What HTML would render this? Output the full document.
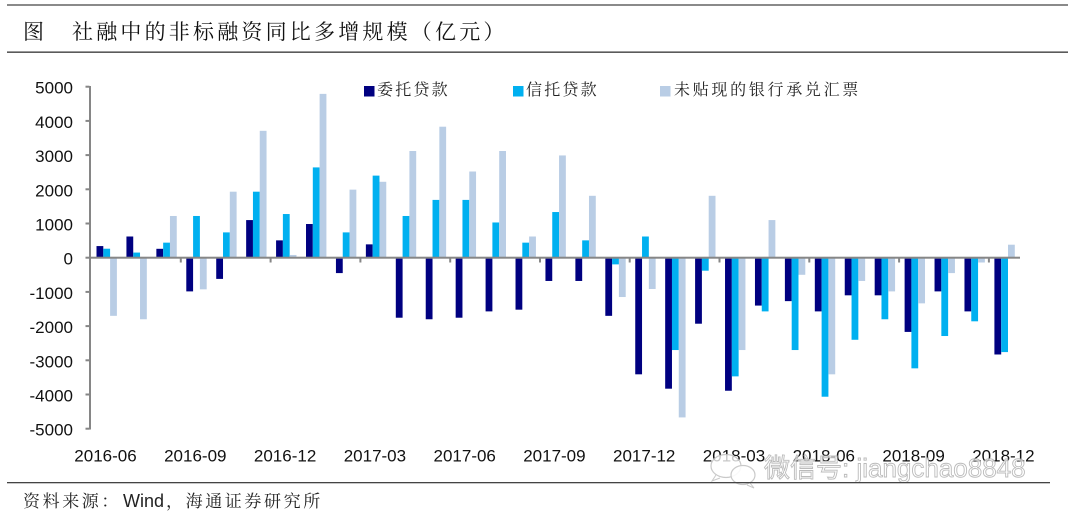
<!DOCTYPE html>
<html>
<head>
<meta charset="utf-8">
<style>
  html,body{margin:0;padding:0;background:#fff;}
  body{width:1080px;height:518px;overflow:hidden;}
  svg{display:block;}
  .cjk{font-family:"Liberation Serif","Noto Serif CJK SC","Noto Sans CJK SC",serif;}
  .num{font-family:"Liberation Sans",Arial,sans-serif;font-size:17px;fill:#111;}
</style>
</head>
<body>
<svg width="1080" height="518" viewBox="0 0 1080 518" xmlns="http://www.w3.org/2000/svg">
  <!-- header lines -->
  <rect x="7" y="4" width="1061" height="2" fill="#8a8a8a"/>
  <rect x="7" y="51.5" width="1061" height="1.3" fill="#333"/>
  <text x="23" y="39" class="cjk" font-size="21" fill="#111">图</text>
  <text x="72" y="39" class="cjk" font-size="21" letter-spacing="3.2" fill="#111">社融中的非标融资同比多增规模（亿元）</text>

  <!-- legend -->
  <rect x="364" y="86" width="10.5" height="10.5" fill="#000080"/>
  <text x="377" y="95" class="cjk" font-size="16" letter-spacing="2.2" fill="#222">委托贷款</text>
  <rect x="513" y="86" width="10.5" height="10.5" fill="#00b0f0"/>
  <text x="526" y="95" class="cjk" font-size="16" letter-spacing="2.2" fill="#222">信托贷款</text>
  <rect x="660" y="86" width="10.5" height="10.5" fill="#b9cde5"/>
  <text x="674" y="95" class="cjk" font-size="16" letter-spacing="2.7" fill="#222">未贴现的银行承兑汇票</text>

  <!-- y axis labels -->
  <g class="num" text-anchor="end">
    <text x="73" y="93.7">5000</text>
    <text x="73" y="127.9">4000</text>
    <text x="73" y="162.1">3000</text>
    <text x="73" y="196.3">2000</text>
    <text x="73" y="230.5">1000</text>
    <text x="73" y="264.7">0</text>
    <text x="73" y="298.9">-1000</text>
    <text x="73" y="333.1">-2000</text>
    <text x="73" y="367.3">-3000</text>
    <text x="73" y="401.5">-4000</text>
    <text x="73" y="435.7">-5000</text>
  </g>

  <!-- bars: dark -->
  <g fill="#000080">
    <rect x="96.5" y="246.07" width="6.8" height="11.63"/>
    <rect x="126.43" y="236.5" width="6.8" height="21.2"/>
    <rect x="156.36" y="248.81" width="6.8" height="8.89"/>
    <rect x="186.29" y="257.7" width="6.8" height="33.69"/>
    <rect x="216.22" y="257.7" width="6.8" height="21.2"/>
    <rect x="246.15" y="220.08" width="6.8" height="37.62"/>
    <rect x="276.08" y="240.36" width="6.8" height="17.34"/>
    <rect x="306.01" y="224.01" width="6.8" height="33.69"/>
    <rect x="335.94" y="257.7" width="6.8" height="15.39"/>
    <rect x="365.87" y="244.36" width="6.8" height="13.34"/>
    <rect x="395.8" y="257.7" width="6.8" height="60.02"/>
    <rect x="425.73" y="257.7" width="6.8" height="61.56"/>
    <rect x="455.66" y="257.7" width="6.8" height="60.02"/>
    <rect x="485.59" y="257.7" width="6.8" height="53.69"/>
    <rect x="515.52" y="257.7" width="6.8" height="51.98"/>
    <rect x="545.45" y="257.7" width="6.8" height="23.26"/>
    <rect x="575.38" y="257.7" width="6.8" height="23.26"/>
    <rect x="605.31" y="257.7" width="6.8" height="58.14"/>
    <rect x="635.24" y="257.7" width="6.8" height="116.62"/>
    <rect x="665.17" y="257.7" width="6.8" height="130.99"/>
    <rect x="695.1" y="257.7" width="6.8" height="66.01"/>
    <rect x="725.03" y="257.7" width="6.8" height="133.04"/>
    <rect x="754.96" y="257.7" width="6.8" height="47.88"/>
    <rect x="784.89" y="257.7" width="6.8" height="43.43"/>
    <rect x="814.82" y="257.7" width="6.8" height="53.69"/>
    <rect x="844.75" y="257.7" width="6.8" height="37.62"/>
    <rect x="874.68" y="257.7" width="6.8" height="37.62"/>
    <rect x="904.61" y="257.7" width="6.8" height="74.21"/>
    <rect x="934.54" y="257.7" width="6.8" height="33.69"/>
    <rect x="964.47" y="257.7" width="6.8" height="53.69"/>
    <rect x="994.4" y="257.7" width="6.8" height="96.79"/>
  </g>
  <!-- bars: cyan -->
  <g fill="#00b0f0">
    <rect x="103.3" y="248.71" width="6.8" height="8.99"/>
    <rect x="133.23" y="252.57" width="6.8" height="5.13"/>
    <rect x="163.16" y="242.65" width="6.8" height="15.05"/>
    <rect x="193.09" y="215.98" width="6.8" height="41.72"/>
    <rect x="223.02" y="232.39" width="6.8" height="25.31"/>
    <rect x="252.95" y="191.69" width="6.8" height="66.01"/>
    <rect x="282.88" y="214.03" width="6.8" height="43.67"/>
    <rect x="312.81" y="167.41" width="6.8" height="90.29"/>
    <rect x="342.74" y="232.39" width="6.8" height="25.31"/>
    <rect x="372.67" y="175.62" width="6.8" height="82.08"/>
    <rect x="402.6" y="215.98" width="6.8" height="41.72"/>
    <rect x="432.53" y="199.9" width="6.8" height="57.8"/>
    <rect x="462.46" y="199.9" width="6.8" height="57.8"/>
    <rect x="492.39" y="222.47" width="6.8" height="35.23"/>
    <rect x="522.32" y="242.65" width="6.8" height="15.05"/>
    <rect x="552.25" y="212.04" width="6.8" height="45.66"/>
    <rect x="582.18" y="240.36" width="6.8" height="17.34"/>
    <rect x="612.11" y="257.7" width="6.8" height="6.67"/>
    <rect x="642.04" y="236.5" width="6.8" height="21.2"/>
    <rect x="671.97" y="257.7" width="6.8" height="92.34"/>
    <rect x="701.9" y="257.7" width="6.8" height="13.0"/>
    <rect x="731.83" y="257.7" width="6.8" height="118.67"/>
    <rect x="761.76" y="257.7" width="6.8" height="53.69"/>
    <rect x="791.69" y="257.7" width="6.8" height="92.34"/>
    <rect x="821.62" y="257.7" width="6.8" height="139.02"/>
    <rect x="851.55" y="257.7" width="6.8" height="82.08"/>
    <rect x="881.48" y="257.7" width="6.8" height="61.56"/>
    <rect x="911.41" y="257.7" width="6.8" height="110.64"/>
    <rect x="941.34" y="257.7" width="6.8" height="78.32"/>
    <rect x="971.27" y="257.7" width="6.8" height="63.61"/>
    <rect x="1001.2" y="257.7" width="6.8" height="94.39"/>
  </g>
  <!-- bars: light -->
  <g fill="#b9cde5">
    <rect x="110.1" y="257.7" width="6.8" height="58.14"/>
    <rect x="140.03" y="257.7" width="6.8" height="61.56"/>
    <rect x="169.96" y="215.98" width="6.8" height="41.72"/>
    <rect x="199.89" y="257.7" width="6.8" height="31.64"/>
    <rect x="229.82" y="191.69" width="6.8" height="66.01"/>
    <rect x="259.75" y="130.82" width="6.8" height="126.88"/>
    <rect x="289.68" y="254.96" width="6.8" height="2.74"/>
    <rect x="319.61" y="93.88" width="6.8" height="163.82"/>
    <rect x="349.54" y="189.64" width="6.8" height="68.06"/>
    <rect x="379.47" y="181.78" width="6.8" height="75.92"/>
    <rect x="409.4" y="151.0" width="6.8" height="106.7"/>
    <rect x="439.33" y="126.71" width="6.8" height="130.99"/>
    <rect x="469.26" y="171.52" width="6.8" height="86.18"/>
    <rect x="499.19" y="151.0" width="6.8" height="106.7"/>
    <rect x="529.12" y="236.5" width="6.8" height="21.2"/>
    <rect x="559.05" y="155.44" width="6.8" height="102.26"/>
    <rect x="588.98" y="195.8" width="6.8" height="61.9"/>
    <rect x="618.91" y="257.7" width="6.8" height="39.33"/>
    <rect x="648.84" y="257.7" width="6.8" height="31.29"/>
    <rect x="678.77" y="257.7" width="6.8" height="159.71"/>
    <rect x="708.7" y="195.8" width="6.8" height="61.9"/>
    <rect x="738.63" y="257.7" width="6.8" height="92.34"/>
    <rect x="768.56" y="220.08" width="6.8" height="37.62"/>
    <rect x="798.49" y="257.7" width="6.8" height="17.1"/>
    <rect x="828.42" y="257.7" width="6.8" height="116.62"/>
    <rect x="858.35" y="257.7" width="6.8" height="23.26"/>
    <rect x="888.28" y="257.7" width="6.8" height="33.69"/>
    <rect x="918.21" y="257.7" width="6.8" height="45.66"/>
    <rect x="948.14" y="257.7" width="6.8" height="15.39"/>
    <rect x="978.07" y="257.7" width="6.8" height="4.79"/>
    <rect x="1008.0" y="244.7" width="6.8" height="13.0"/>
  </g>

  <!-- axes -->
  <g fill="#868686">
    <rect x="89" y="86" width="2" height="343.5"/>
    <rect x="85.5" y="85.7" width="4" height="2"/>
    <rect x="85.5" y="119.9" width="4" height="2"/>
    <rect x="85.5" y="154.1" width="4" height="2"/>
    <rect x="85.5" y="188.3" width="4" height="2"/>
    <rect x="85.5" y="222.5" width="4" height="2"/>
    <rect x="85.5" y="256.7" width="4" height="2"/>
    <rect x="85.5" y="290.9" width="4" height="2"/>
    <rect x="85.5" y="325.1" width="4" height="2"/>
    <rect x="85.5" y="359.3" width="4" height="2"/>
    <rect x="85.5" y="393.5" width="4" height="2"/>
    <rect x="85.5" y="427.7" width="4" height="2"/>
    <rect x="89" y="256.7" width="931" height="2"/>
    <rect x="179.8" y="257" width="2" height="5.5"/>
    <rect x="269.6" y="257" width="2" height="5.5"/>
    <rect x="359.4" y="257" width="2" height="5.5"/>
    <rect x="449.2" y="257" width="2" height="5.5"/>
    <rect x="539" y="257" width="2" height="5.5"/>
    <rect x="628.7" y="257" width="2" height="5.5"/>
    <rect x="718.5" y="257" width="2" height="5.5"/>
    <rect x="808.3" y="257" width="2" height="5.5"/>
    <rect x="898.1" y="257" width="2" height="5.5"/>
    <rect x="987.9" y="257" width="2" height="5.5"/>
  </g>

  <!-- x labels -->
  <g class="num" text-anchor="middle" font-size="17.5">
    <text x="105.5" y="461.5">2016-06</text>
    <text x="195.3" y="461.5">2016-09</text>
    <text x="285.1" y="461.5">2016-12</text>
    <text x="374.9" y="461.5">2017-03</text>
    <text x="464.7" y="461.5">2017-06</text>
    <text x="554.4" y="461.5">2017-09</text>
    <text x="644.2" y="461.5">2017-12</text>
    <text x="734" y="461.5">2018-03</text>
    <text x="823.8" y="461.5">2018-06</text>
    <text x="913.6" y="461.5">2018-09</text>
    <text x="1003.4" y="461.5">2018-12</text>
  </g>

  <!-- watermark -->
  <g opacity="0.9">
    <ellipse cx="726" cy="466" rx="15" ry="11.5" fill="#fff" fill-opacity="0.85" stroke="#c4c4c4" stroke-width="1.2"/>
    <ellipse cx="743" cy="475" rx="12" ry="9.5" fill="#fff" fill-opacity="0.9" stroke="#c4c4c4" stroke-width="1.2"/>
    <path d="M716 475 l-4 6 l8 -3" fill="#fff" stroke="#c4c4c4" stroke-width="1"/>
    <path d="M750 483 l4 5 l-7 -3" fill="#fff" stroke="#c4c4c4" stroke-width="1"/>
    <text x="764" y="477" font-family="Liberation Sans,'Noto Sans CJK SC',sans-serif" font-size="26" fill="#fff" fill-opacity="0.8" stroke="#b4b4b4" stroke-width="0.9">微信号: jiangchao8848</text>
  </g>

  <!-- footer -->
  <rect x="7" y="482" width="1043" height="1.3" fill="#444"/>
  <text x="23" y="507" class="cjk" font-size="17" letter-spacing="2.6" fill="#222">资料来源：</text>
  <text x="123" y="507" font-family="Liberation Sans,sans-serif" font-size="18" fill="#222">Wind</text>
  <text x="166" y="507" class="cjk" font-size="17" letter-spacing="2.6" fill="#222">，海通证券研究所</text>
</svg>
</body>
</html>
